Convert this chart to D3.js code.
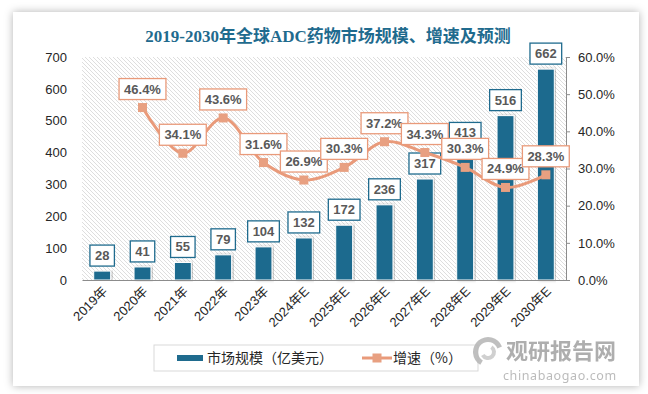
<!DOCTYPE html>
<html lang="zh">
<head>
<meta charset="utf-8">
<script src="https://d3js.org/d3.v7.min.js"></script>
<title>ADC药物市场规模</title>
<style>
  body { margin: 0; background: #fff; }
  svg { display: block; }
</style>
</head>
<body>
<div id="chart"></div>
<script>
  // data
  const years = ["2019年", "2020年", "2021年", "2022年", "2023年", "2024年E", "2025年E",
                 "2026年E", "2027年E", "2028年E", "2029年E", "2030年E"];
  const marketSize = [28, 41, 55, 79, 104, 132, 172, 236, 317, 413, 516, 662];
  const growth = [null, 46.4, 34.1, 43.6, 31.6, 26.9, 30.3, 37.2, 34.3, 30.3, 24.9, 28.3];
  const leftTicks = [0, 100, 200, 300, 400, 500, 600, 700];
  const rightTicks = [0, 10, 20, 30, 40, 50, 60];

  const W = 648, H = 394;
  const plot = { left: 82, right: 566, top: 57, bottom: 280 };
  const teal = "#1f6b8e", orange = "#e99a7a", labelGrey = "#595959";
  const numFont = "'Liberation Sans', Arial, 'Noto Sans CJK SC', sans-serif";
  const cjkFont = "'Noto Sans CJK SC', 'Liberation Sans', sans-serif";

  const svg = d3.select("#chart").append("svg")
    .attr("width", W).attr("height", H);

  const defs = svg.append("defs");
  defs.append("filter").attr("id", "cardShadow")
    .attr("x", "-5%").attr("y", "-5%").attr("width", "110%").attr("height", "110%")
    .append("feDropShadow")
    .attr("dx", 0).attr("dy", 0).attr("stdDeviation", 4)
    .attr("flood-color", "#000").attr("flood-opacity", 0.3);
  defs.append("filter").attr("id", "barShadow")
    .append("feDropShadow")
    .attr("dx", 2).attr("dy", 0).attr("stdDeviation", 1.5)
    .attr("flood-color", "#000").attr("flood-opacity", 0.25);
  const pat = defs.append("pattern").attr("id", "hatch")
    .attr("patternUnits", "userSpaceOnUse").attr("width", 4).attr("height", 4);
  pat.append("rect").attr("width", 4).attr("height", 4).attr("fill", "#fff");
  pat.append("path").attr("d", "M0,0 L4,4 M-1,3 L1,5 M3,-1 L5,1")
    .attr("stroke", "#d6d6d6").attr("stroke-width", 0.8);

  // card
  svg.append("rect")
    .attr("x", 13).attr("y", 12).attr("width", 626).attr("height", 374)
    .attr("fill", "#fff").attr("filter", "url(#cardShadow)");

  // title
  svg.append("text")
    .attr("x", 328).attr("y", 42).attr("text-anchor", "middle")
    .attr("font-family", "'Liberation Serif', 'Noto Sans CJK SC', serif")
    .attr("font-weight", "bold").attr("font-size", 17)
    .attr("fill", teal)
    .text("2019-2030年全球ADC药物市场规模、增速及预测");

  // scales
  const x = d3.scaleBand().domain(years)
    .range([plot.left, plot.right]).paddingInner(0.58).paddingOuter(0.29);
  const y = d3.scaleLinear().domain([0, 700]).range([plot.bottom, plot.top]);
  const y2 = d3.scaleLinear().domain([0, 60]).range([plot.bottom, plot.top]);
  const cx = d => x(d) + x.bandwidth() / 2;

  // hatched plot background
  svg.append("rect")
    .attr("x", plot.left).attr("y", plot.top)
    .attr("width", plot.right - plot.left).attr("height", plot.bottom - plot.top)
    .attr("fill", "url(#hatch)");

  // left axis
  const gl = svg.append("g")
    .attr("transform", `translate(${plot.left - 10},0)`)
    .call(d3.axisLeft(y).tickValues(leftTicks).tickSize(0).tickPadding(5));
  gl.select(".domain").remove();
  gl.selectAll("text").attr("font-family", numFont).attr("font-size", 13).attr("fill", "#262626");

  // right axis
  const gr = svg.append("g")
    .attr("transform", `translate(${plot.right},0)`)
    .call(d3.axisRight(y2).tickValues(rightTicks).tickSize(4).tickPadding(8)
      .tickFormat(d => d.toFixed(1) + "%"));
  gr.select(".domain").attr("stroke", "#8c8c8c");
  gr.selectAll(".tick line").attr("stroke", "#8c8c8c");
  gr.selectAll("text").attr("font-family", numFont).attr("font-size", 13).attr("fill", "#262626");

  // bars
  svg.append("g").selectAll("rect")
    .data(marketSize)
    .join("rect")
    .attr("x", (d, i) => x(years[i]))
    .attr("y", d => y(d))
    .attr("width", x.bandwidth())
    .attr("height", d => plot.bottom - y(d))
    .attr("fill", teal)
    .attr("stroke", "#fff").attr("stroke-width", 1)
    .attr("filter", "url(#barShadow)");

  // bottom axis
  const gb = svg.append("g")
    .attr("transform", `translate(0,${plot.bottom})`)
    .call(d3.axisBottom(x).tickSize(0).tickPadding(0));
  gb.select(".domain").attr("stroke", "#8c8c8c").attr("stroke-width", 1.2);
  gb.selectAll("text")
    .attr("font-family", numFont).attr("font-size", 13).attr("fill", "#262626")
    .attr("text-anchor", "end")
    .attr("dy", 0)
    .attr("transform", "translate(6,12) rotate(-45)");

  // label box helper
  function labelBox(g, cxv, bottom, txt, stroke) {
    const t = g.append("text")
      .attr("x", cxv).attr("y", bottom - 6)
      .attr("text-anchor", "middle")
      .attr("font-family", numFont).attr("font-weight", "bold").attr("font-size", 13)
      .attr("fill", labelGrey).text(txt);
    const w = t.node().getComputedTextLength() + 10;
    g.insert("rect", "text:last-child")
      .attr("x", cxv - w / 2).attr("y", bottom - 21)
      .attr("width", w).attr("height", 21)
      .attr("fill", "#fff").attr("stroke", stroke).attr("stroke-width", 1.3);
  }

  // bar labels
  const gbl = svg.append("g");
  marketSize.forEach((d, i) => {
    const g = gbl.append("g");
    labelBox(g, cx(years[i]), y(d) - 5, d, teal);
  });

  // growth line
  const pts = growth.map((d, i) => ({ cat: years[i], v: d })).filter(d => d.v !== null);
  svg.append("path")
    .datum(pts)
    .attr("fill", "none").attr("stroke", orange).attr("stroke-width", 3)
    .attr("d", d3.line().x(d => cx(d.cat)).y(d => y2(d.v)).curve(d3.curveCatmullRom.alpha(0.5)));
  svg.append("g").selectAll("rect")
    .data(pts)
    .join("rect")
    .attr("x", d => cx(d.cat) - 4.5).attr("y", d => y2(d.v) - 4.5)
    .attr("width", 9).attr("height", 9)
    .attr("fill", "#e8a081");

  // growth labels
  const gll = svg.append("g");
  pts.forEach(d => {
    const g = gll.append("g");
    labelBox(g, cx(d.cat), y2(d.v) - 8, d.v.toFixed(1) + "%", orange);
  });

  // legend
  const lg = svg.append("g");
  lg.append("rect").attr("x", 154).attr("y", 345).attr("width", 324).attr("height", 26)
    .attr("fill", "#fff").attr("stroke", "#d9d9d9");
  lg.append("rect").attr("x", 177).attr("y", 355).attr("width", 26).attr("height", 6).attr("fill", teal);
  lg.append("text").attr("x", 207).attr("y", 363)
    .attr("font-family", cjkFont).attr("font-size", 14).attr("fill", "#262626")
    .text("市场规模（亿美元）");
  lg.append("line").attr("x1", 362).attr("x2", 392).attr("y1", 358).attr("y2", 358)
    .attr("stroke", orange).attr("stroke-width", 3);
  lg.append("rect").attr("x", 372.5).attr("y", 353.5).attr("width", 9).attr("height", 9).attr("fill", "#e8a081");
  lg.append("text").attr("x", 393).attr("y", 363)
    .attr("font-family", cjkFont).attr("font-size", 14).attr("fill", "#262626")
    .text("增速（%）");

  // watermark
  const wm = svg.append("g").attr("opacity", 0.85);
  wm.append("path")
    .attr("d", d3.arc()({ innerRadius: 10, outerRadius: 15, startAngle: -2.6, endAngle: 1.2 }))
    .attr("transform", "translate(488,352)").attr("fill", "#b5b5b5");
  wm.append("path")
    .attr("d", d3.arc()({ innerRadius: 4, outerRadius: 8, startAngle: 0.6, endAngle: 4.2 }))
    .attr("transform", "translate(488,352)").attr("fill", "#c8c8c8");
  wm.append("text").attr("x", 506).attr("y", 359)
    .attr("font-family", cjkFont).attr("font-weight", "bold").attr("font-size", 22)
    .attr("fill", "#a0a0a0").text("观研报告网");
  wm.append("text").attr("x", 503).attr("y", 380)
    .attr("font-family", "'Noto Sans', sans-serif").attr("font-size", 12.5)
    .attr("letter-spacing", 0.6)
    .attr("fill", "#b0b0b0").text("chinabaogao.com");
</script>
</body>
</html>
